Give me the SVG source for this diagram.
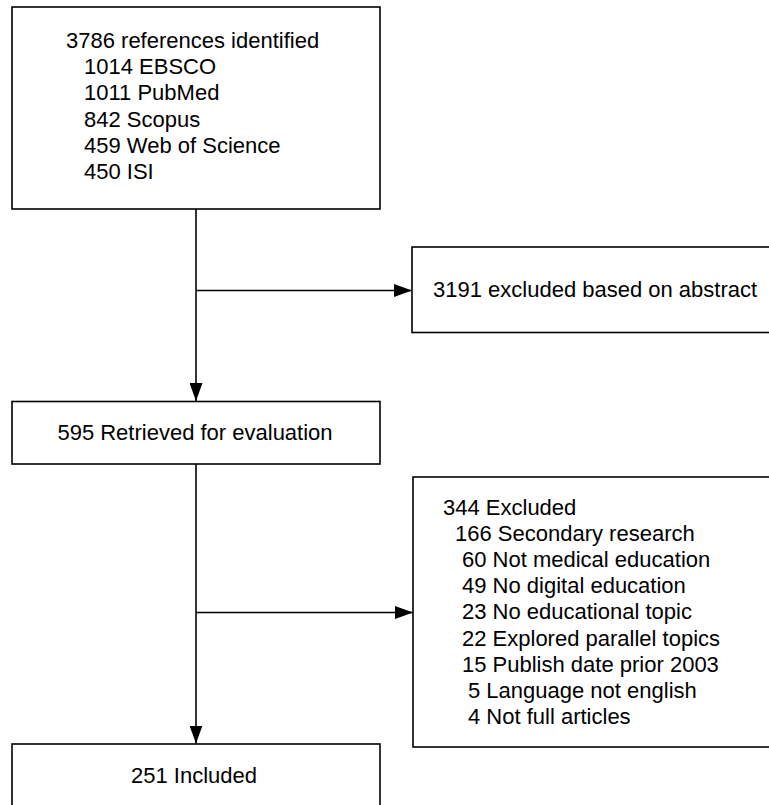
<svg xmlns="http://www.w3.org/2000/svg" width="769" height="805" viewBox="0 0 769 805">
<defs>
<style>
.box{fill:#fff;stroke:#000;stroke-width:1.6}
.t{font-family:"Liberation Sans",Arial,Helvetica,sans-serif;font-size:22px;fill:#000}
.c{fill:none;stroke:#000;stroke-width:1.6}
</style>
<marker id="ah" markerWidth="18" markerHeight="13" refX="18" refY="6.5" orient="auto" markerUnits="userSpaceOnUse">
<path d="M0,0 L18,6.5 L0,13 Z" fill="#000"/>
</marker>
</defs>
<rect width="769" height="805" fill="#fff"/>
<g id="connectors">
<line class="c" x1="196" y1="209" x2="196" y2="401" marker-end="url(#ah)"/>
<line class="c" x1="196" y1="290.5" x2="412" y2="290.5" marker-end="url(#ah)"/>
<line class="c" x1="196" y1="464" x2="196" y2="743.5" marker-end="url(#ah)"/>
<line class="c" x1="196" y1="612.5" x2="413" y2="612.5" marker-end="url(#ah)"/>
</g>
<g id="n1">
<rect class="box" x="12" y="7" width="368" height="202"/>
<text class="t" x="66" y="48">3786 references identified</text>
<text class="t" x="84" y="74">1014 EBSCO</text>
<text class="t" x="84" y="100">1011 PubMed</text>
<text class="t" x="84" y="126.5">842 Scopus</text>
<text class="t" x="84" y="153">459 Web of Science</text>
<text class="t" x="84" y="178.5">450 ISI</text>
</g>
<g id="n2">
<rect class="box" x="412" y="247" width="380" height="85.5"/>
<text class="t" x="433" y="297">3191 excluded based on abstract</text>
</g>
<g id="n3">
<rect class="box" x="12" y="401.5" width="368" height="62.5"/>
<text class="t" x="195" y="440" text-anchor="middle">595 Retrieved for evaluation</text>
</g>
<g id="n4">
<rect class="box" x="413" y="477" width="374" height="270"/>
<text class="t" x="443" y="515">344 Excluded</text>
<text class="t" x="455" y="541">166 Secondary research</text>
<text class="t" x="462" y="567">60 Not medical education</text>
<text class="t" x="462" y="593">49 No digital education</text>
<text class="t" x="462" y="619">23 No educational topic</text>
<text class="t" x="462" y="645.5">22 Explored parallel topics</text>
<text class="t" x="462" y="671.5">15 Publish date prior 2003</text>
<text class="t" x="468" y="697.5">5 Language not english</text>
<text class="t" x="468" y="723.5">4 Not full articles</text>
</g>
<g id="n5">
<rect class="box" x="12" y="744" width="368" height="80"/>
<text class="t" x="194" y="783" text-anchor="middle">251 Included</text>
</g>
</svg>
